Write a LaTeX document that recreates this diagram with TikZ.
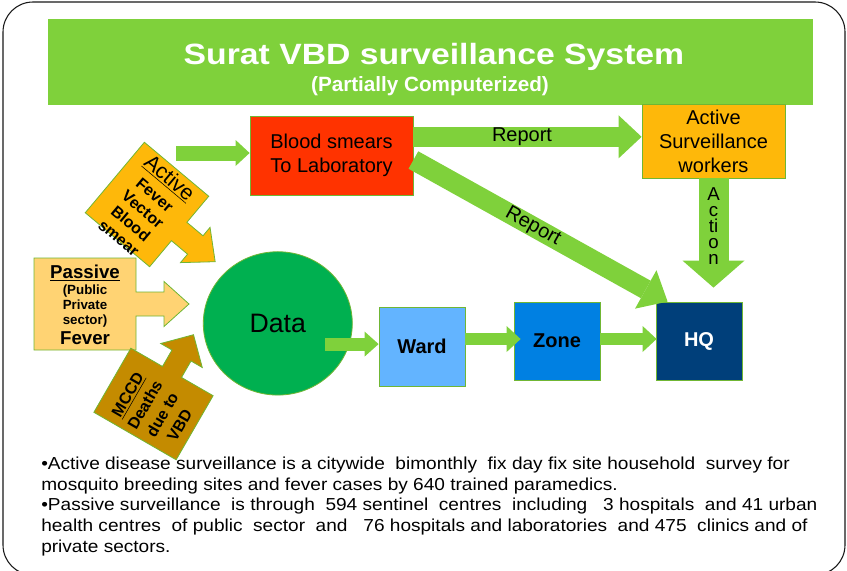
\documentclass[tikz,border=0pt]{standalone}
\usepackage{fontspec}
\setmainfont{Liberation Sans}
\newfontfamily\titlefont[FakeStretch=1.15]{Liberation Sans}
\newfontfamily\notefont[FakeStretch=1.1]{Liberation Sans}
\usetikzlibrary{calc, arrows.meta, shapes.geometric}
\definecolor{frameBlack}{gray}{0.1}
\definecolor{titleGreen}{RGB}{127,209,59}
\definecolor{edgeGreen}{RGB}{112,182,52}
\definecolor{dataGreen}{RGB}{0,176,80}
\definecolor{labRed}{RGB}{255,51,0}
\definecolor{activeOrange}{RGB}{254,184,10}
\definecolor{passiveOrange}{RGB}{255,211,115}
\definecolor{mccdGold}{RGB}{196,139,0}
\definecolor{wardBlue}{RGB}{99,180,255}
\definecolor{zoneBlue}{RGB}{0,128,226}
\definecolor{hqBlue}{RGB}{0,63,122}

\tikzset{
    box/.style={draw=edgeGreen, line width=0.6pt, inner sep=0pt, align=center},
    callout/.style={draw=edgeGreen, line width=0.6pt},
    blockarrow/.style n args={3}{titleGreen, line width=#1, -{Triangle[length=#2, width=#3, line width=0pt]}},
}

\begin{document}
\begin{tikzpicture}[x=0.75pt, y=-0.75pt]
    \useasboundingbox (0,0) rectangle (847,571);
    % Frame and title
    \draw[frameBlack, line width=0.8pt, rounded corners=22.5pt] (3,2) rectangle (845,575);
    \fill[titleGreen] (48,19) rectangle (813,105);
    \node[anchor=base, white, font=\titlefont\bfseries\fontsize{22}{26}\selectfont] (title) at (434,64.5) {Surat VBD surveillance System};
    \node[anchor=base, white, font=\bfseries\fontsize{15.5}{18}\selectfont] (subtitle) at (430,91) {(Partially Computerized)};

    % Boxes
    \node[box, fill=labRed, minimum width=122.25pt, minimum height=59.25pt, font=\fontsize{15}{18}\selectfont] (lab) at (331.5,155.5) {Blood smears\\To Laboratory};
    \node[box, fill=activeOrange, minimum width=107.25pt, minimum height=55.5pt, font=\fontsize{15}{18}\selectfont] (workers) at (713.5,141) {Active\\Surveillance\\workers};
    \node[ellipse, fill=dataGreen, draw=edgeGreen, line width=0.6pt, inner sep=0pt, minimum width=111.75pt, minimum height=107.5pt, font=\fontsize{20}{24}\selectfont] (data) at (277.8,323.4) {Data};
    \node[box, fill=wardBlue, minimum width=64.5pt, minimum height=59.25pt, font=\bfseries\fontsize{15}{18}\selectfont] (ward) at (422,346.5) {Ward};
    \node[box, fill=zoneBlue, minimum width=64.5pt, minimum height=58.5pt, font=\bfseries\fontsize{15}{18}\selectfont] (zone) at (557,341) {Zone};
    \node[box, fill=hqBlue, text=white, minimum width=64.5pt, minimum height=58.5pt, font=\bfseries\fontsize{15}{18}\selectfont] (hq) at (699,341) {HQ};

    % Callouts
    \begin{scope}[shift={(147,204.5)}, rotate=-40]
        \draw[callout, fill=activeOrange] (-42,-46) -- (42,-46) -- (42,-12) -- (63,-12) -- (63,-23) -- (89,0) -- (63,23) -- (63,12) -- (42,12) -- (42,46) -- (-42,46) -- cycle;
        \node[transform shape, align=center, font=\bfseries\fontsize{12}{14}\selectfont] (active) at (0,3) {{\underline{\mdseries\fontsize{16}{18}\selectfont Active}}\\[2pt]Fever\\Vector\\Blood\\smear};
    \end{scope}
    \begin{scope}[shift={(85,304)}]
        \draw[callout, fill=passiveOrange] (-51,-46) -- (51,-46) -- (51,-12) -- (79,-12) -- (79,-22.5) -- (104,0) -- (79,22.5) -- (79,12) -- (51,12) -- (51,46) -- (-51,46) -- cycle;
        \node[align=center, font=\bfseries\fontsize{10}{11.25}\selectfont] (passive) at (0,1) {{\underline{\fontsize{14}{16}\selectfont Passive}}\\[1pt](Public\\Private\\sector)\\[2.5pt]{\fontsize{14}{16}\selectfont Fever}};
    \end{scope}
    \begin{scope}[shift={(153.5,404)}, rotate=60]
        \draw[callout, fill=mccdGold] (-37,-47.5) -- (37,-47.5) -- (37,-11) -- (56,-11) -- (56,-24) -- (80,0) -- (56,24) -- (56,11) -- (37,11) -- (37,47.5) -- (-37,47.5) -- cycle;
        \node[transform shape, align=center, font=\bfseries\fontsize{12}{15}\selectfont] (mccd) at (-5,3) {\underline{MCCD}\\Deaths\\due to\\VBD};
    \end{scope}

    % Arrows
    \coordinate (labin) at (176,153);
    \draw[blockarrow={11.25pt}{10.5pt}{19.5pt}] (labin) -- (labin -| lab.west);
    \coordinate (labtop) at ([yshift=14pt]lab.east);
    \draw[blockarrow={15pt}{17.25pt}{32.25pt}] (labtop) -- (labtop -| workers.west) node[pos=0.476, black, font=\fontsize{15}{18}\selectfont] {Report};
    \coordinate (labbot) at ([yshift=-3.4pt]lab.east);
    \coordinate (hqtop) at ([xshift=9pt]hq.north west);
    \draw[blockarrow={15pt}{18.75pt}{33pt}] (labbot) -- (hqtop) node[pos=0.47, sloped, black, font=\fontsize{15}{18}\selectfont] {Report};
    \coordinate (actionend) at ([yshift=10.5pt]hq.north);
    \draw[blockarrow={22.5pt}{20.25pt}{46.5pt}] (workers.south) -- (workers.south |- actionend) node[pos=0.44, black, align=center, font=\fontsize{14}{12}\selectfont] {A\\c\\ti\\o\\n};
    \coordinate (dataout) at ([xshift=35.4pt, yshift=-15.5pt]data.center);
    \draw[blockarrow={9.75pt}{10.5pt}{18.75pt}] (dataout) -- (dataout -| ward.west);
    \coordinate (wardout) at ([yshift=5.6pt]ward.east);
    \draw[blockarrow={9pt}{10.5pt}{19.5pt}] (wardout) -- ($(wardout -| zone.west)+(7,0)$);
    \coordinate (zoneout) at ([yshift=1.5pt]zone.east);
    \draw[blockarrow={9pt}{10.5pt}{19.5pt}] (zoneout) -- ($(zoneout -| hq.west)+(1,0)$);

    % Notes
    \node[anchor=north west, inner sep=0pt, align=left, font=\notefont\fontsize{13}{15.6}\selectfont] (notes) at (41,456.5) {•Active disease surveillance is a citywide\ \ bimonthly\ \ fix day fix site household\ \ survey for\\mosquito breeding sites and fever cases by 640 trained paramedics.\\•Passive surveillance\ \ is through\ \ 594 sentinel\ \ centres\ \ including\ \ \ 3 hospitals\ \ and 41 urban\\health centres\ \ of public\ \ sector\ \ and\ \ \ 76 hospitals and laboratories\ \ and 475\ \ clinics and of\\private sectors.};
\end{tikzpicture}
\end{document}
